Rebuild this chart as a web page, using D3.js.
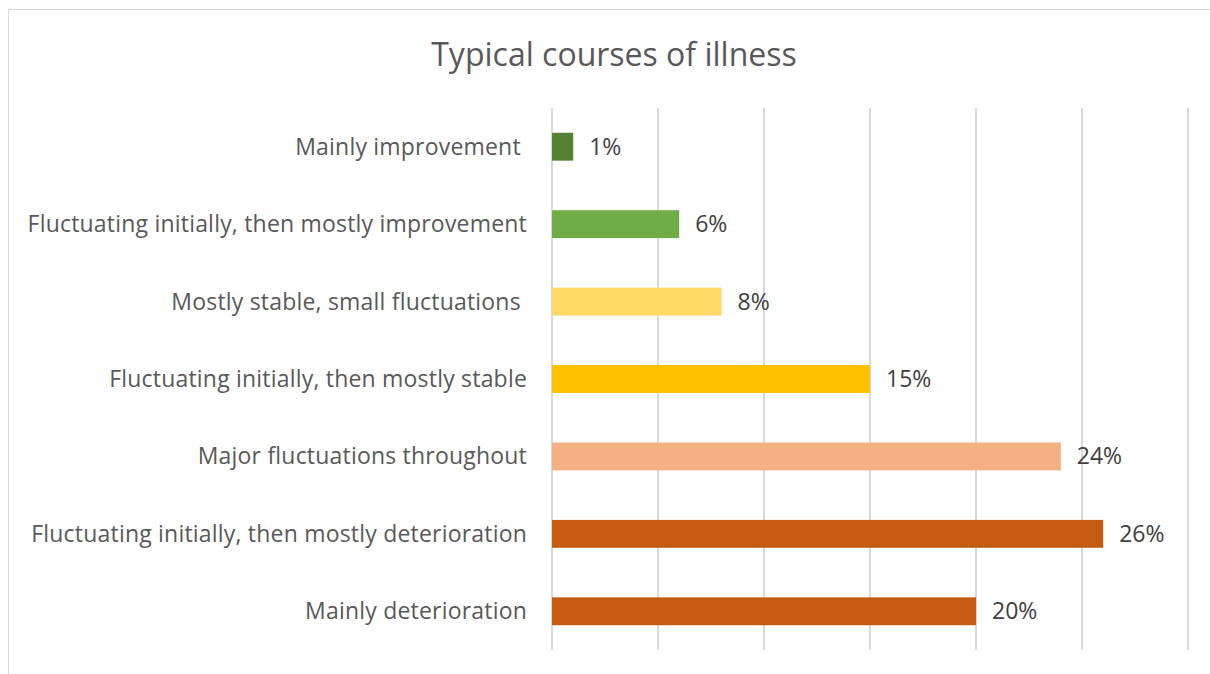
<!DOCTYPE html>
<html><head><meta charset="utf-8">
<script src="https://cdn.jsdelivr.net/npm/d3@7"></script>
<style>html,body{margin:0;padding:0;background:#fff;overflow:hidden}</style>
</head><body>
<svg id="c" width="1210" height="674"></svg>
<script>
const categories = ["Mainly improvement ", "Fluctuating initially, then mostly improvement", "Mostly stable, small fluctuations ", "Fluctuating initially, then mostly stable", "Major fluctuations throughout", "Fluctuating initially, then mostly deterioration", "Mainly deterioration"];
const values = [1, 6, 8, 15, 24, 26, 20];
const valueLabels = ["1%", "6%", "8%", "15%", "24%", "26%", "20%"];
const colors = ["#548235", "#70AD47", "#FFD966", "#FFC000", "#F4B183", "#C55A11", "#C55A11"];
const xTicks = [0, 5, 10, 15, 20, 25, 30];
const title = "Typical courses of illness";

const svg = d3.select("#c");
const font = "'Open Sans', 'Noto Sans', sans-serif";
svg.append("rect").attr("x", 8.5).attr("y", 9.5).attr("width", 1300).attr("height", 700)
  .attr("fill", "#fff").attr("stroke", "#d9d9d9").attr("stroke-width", 1);

const x = d3.scaleLinear().domain([0, 30]).range([552, 1188]);
const y = d3.scaleBand().domain(categories).range([108, 650]).paddingInner(0.64).paddingOuter(0.32);

svg.append("g").selectAll("line").data(xTicks).join("line")
  .attr("x1", d => x(d)).attr("x2", d => x(d)).attr("y1", 108).attr("y2", 650)
  .attr("stroke", "#d9d9d9").attr("stroke-width", 2);

svg.append("text").attr("x", 614).attr("y", 66).attr("text-anchor", "middle")
  .attr("font-family", font).attr("font-size", 32).attr("fill", "#595959").text(title);

svg.append("g").selectAll("rect").data(values).join("rect")
  .attr("x", x(0)).attr("y", (d, i) => y(categories[i]))
  .attr("width", d => x(d) - x(0)).attr("height", y.bandwidth())
  .attr("fill", (d, i) => colors[i]);

svg.append("g").selectAll("text").data(categories).join("text")
  .attr("x", 527).attr("y", d => y(d) + y.bandwidth() / 2).attr("dy", "0.35em")
  .attr("text-anchor", "end").attr("xml:space", "preserve").style("white-space", "pre")
  .attr("letter-spacing", 0.2)
  .attr("font-family", font).attr("font-size", 23).attr("fill", "#595959").text(d => d);

svg.append("g").selectAll("text").data(values).join("text")
  .attr("x", d => x(d) + 16).attr("y", (d, i) => y(categories[i]) + y.bandwidth() / 2).attr("dy", "0.35em")
  .attr("font-family", font).attr("font-size", 23).attr("fill", "#404040").text((d, i) => valueLabels[i]);
</script>
</body></html>
